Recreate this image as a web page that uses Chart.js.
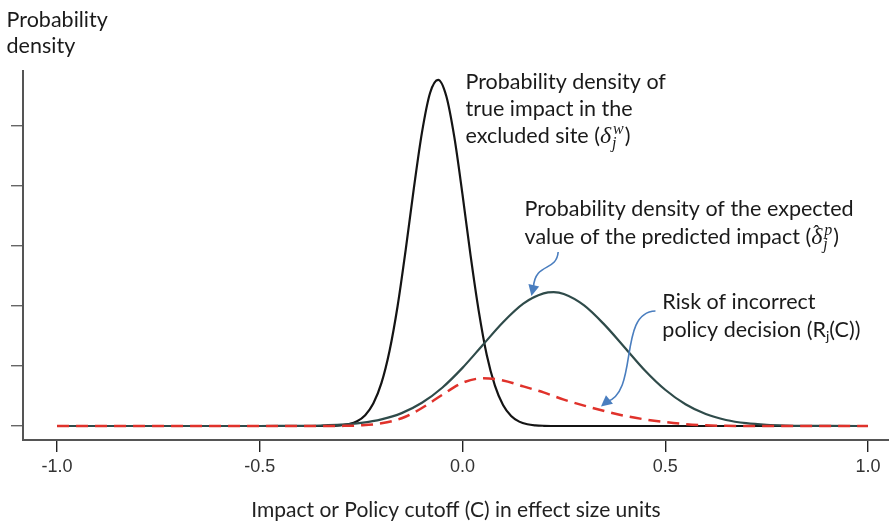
<!DOCTYPE html>
<html><head><meta charset="utf-8">
<script src="https://cdn.jsdelivr.net/npm/chart.js@4.4.1/dist/chart.umd.min.js"></script>
<style>html,body{margin:0;padding:0;background:#fff;}#wrap{width:889px;height:524px;}</style>
</head><body><div id="wrap"><canvas id="c" width="889" height="524"></canvas></div>
<script>
// ---- data ----
const trueX = [-1.0, -0.36, -0.32, -0.30, -0.28, -0.26, -0.24, -0.22, -0.20, -0.18, -0.16, -0.14, -0.12, -0.10, -0.08, -0.06, -0.04, -0.02, 0.00, 0.02, 0.04, 0.06, 0.08, 0.10, 0.12, 0.14, 0.16, 0.18, 0.20, 0.24, 1.0];
const trueY = [0, 0, 0.004, 0.012, 0.032, 0.080, 0.181, 0.375, 0.714, 1.25, 2.00, 2.94, 3.96, 4.89, 5.55, 5.77, 5.50, 4.81, 3.86, 2.84, 1.92, 1.18, 0.673, 0.350, 0.167, 0.073, 0.029, 0.011, 0.004, 0, 0];

const predX = [-1.0, -0.50, -0.45, -0.40, -0.35, -0.30, -0.25, -0.20, -0.15, -0.10, -0.05, 0.00, 0.05, 0.10, 0.15, 0.20, 0.225, 0.25, 0.30, 0.35, 0.40, 0.45, 0.50, 0.55, 0.60, 0.65, 0.70, 0.75, 0.80, 0.85, 0.90, 1.0];
const predY = [0, 0, 0.001, 0.003, 0.009, 0.022, 0.052, 0.110, 0.215, 0.387, 0.638, 0.969, 1.35, 1.73, 2.04, 2.21, 2.23, 2.20, 2.01, 1.69, 1.31, 0.926, 0.604, 0.362, 0.199, 0.101, 0.047, 0.020, 0.008, 0.003, 0.001, 0];

const riskX = [-1.0, -0.35, -0.30, -0.25, -0.20, -0.15, -0.10, -0.05, 0.00, 0.05, 0.10, 0.15, 0.20, 0.25, 0.30, 0.35, 0.40, 0.45, 0.50, 0.55, 0.60, 0.65, 0.70, 1.0];
const riskY = [0, 0, 0.002, 0.012, 0.045, 0.13, 0.30, 0.52, 0.72, 0.795, 0.76, 0.66, 0.56, 0.44, 0.34, 0.25, 0.17, 0.11, 0.065, 0.032, 0.012, 0.003, 0, 0];

const xTickValues = [-1.0, -0.5, 0.0, 0.5, 1.0];
const xTickLabels = ['-1.0', '-0.5', '0.0', '0.5', '1.0'];
const yTickValues = [0, 1, 2, 3, 4, 5];
const xAxisTitle = 'Impact or Policy cutoff (C) in effect size units';
const yAxisTitle = ['Probability', 'density'];

const pts = (xs, ys) => xs.map((x, i) => ({x: x, y: ys[i]}));

// ---- styles ----
const TXT = '21.5px Lato';
const MATH = 'italic 24px "Liberation Serif"';
const MSMALL = 'italic 16px "Liberation Serif"';
const SUBR = '14px Lato';
const TEXT_COLOR = '#1a1a1a';
const ARROW_COLOR = '#4a7ebf';

// annotation anchors in data units
const notes = [
  {x: 0.0074, y: [5.617, 5.167, 4.717], lines: [
    [{t: 'Probability density of'}],
    [{t: 'true impact in the'}],
    [{t: 'excluded site ('}, {t: 'δ', font: MATH}, {sub: 'j', sup: 'w'}, {t: ')'}]
  ]},
  {x: 0.153, y: [3.5, 3.033], lines: [
    [{t: 'Probability density of the expected'}],
    [{t: 'value of the predicted impact ('}, {t: 'δ', font: MATH, hat: true}, {sub: 'j', sup: 'p'}, {t: ')'}]
  ]},
  {x: 0.493, y: [1.95, 1.483], lines: [
    [{t: 'Risk of incorrect'}],
    [{t: 'policy decision (R'}, {t: 'j', font: SUBR, dy: 4}, {t: '(C))'}]
  ]}
];
const yTitlePos = {x: -1.1245, y: [6.65, 6.217]};
const xTitlePos = {x: -0.0005, y: -1.52};

const arrows = [
  {p: [[0.236, 2.9], [0.2318, 2.567], [0.18, 2.733], [0.175, 2.317]], tip: [0.170, 2.167]},
  {p: [[0.476, 1.917], [0.3822, 1.9], [0.4365, 0.567], [0.355, 0.4]], tip: [0.3416, 0.325]}
];

const annotPlugin = {
  id: 'annot',
  afterDraw(chart) {
    const ctx = chart.ctx, xs = chart.scales.x, ys = chart.scales.y;
    const P = (x, y) => [xs.getPixelForValue(x), ys.getPixelForValue(y)];
    ctx.save();
    ctx.fillStyle = TEXT_COLOR;
    ctx.textAlign = 'left';
    ctx.textBaseline = 'alphabetic';

    function drawRuns(x, y, runs) {
      let cx = x;
      for (const r of runs) {
        if (r.sub !== undefined) {
          ctx.font = MSMALL;
          ctx.fillText(r.sub, cx + 1, y + 5);
          const w1 = ctx.measureText(r.sub).width + 1;
          ctx.fillText(r.sup, cx + 2, y - 9);
          const w2 = ctx.measureText(r.sup).width + 2;
          cx += Math.max(w1, w2) + 1;
        } else {
          ctx.font = r.font || TXT;
          ctx.fillText(r.t, cx, y + (r.dy || 0));
          const w = ctx.measureText(r.t).width;
          if (r.hat) {
            ctx.font = '19px "Liberation Serif"';
            ctx.fillText('ˆ', cx + 2, y - 6);
          }
          cx += w;
        }
      }
    }

    // y axis title
    ctx.font = TXT;
    yAxisTitle.forEach((s, i) => {
      const [px, py] = P(yTitlePos.x, yTitlePos.y[i]);
      ctx.fillText(s, px, py);
    });

    for (const n of notes) {
      n.lines.forEach((ln, i) => {
        const [px, py] = P(n.x, n.y[i]);
        drawRuns(px, py, ln);
      });
    }

    // arrows
    ctx.strokeStyle = ARROW_COLOR;
    ctx.fillStyle = ARROW_COLOR;
    ctx.lineWidth = 1.6;
    for (const a of arrows) {
      const q = a.p.map(v => P(v[0], v[1]));
      ctx.beginPath();
      ctx.moveTo(q[0][0], q[0][1]);
      ctx.bezierCurveTo(q[1][0], q[1][1], q[2][0], q[2][1], q[3][0], q[3][1]);
      ctx.stroke();
      const t = P(a.tip[0], a.tip[1]);
      let dx = t[0] - q[3][0], dy = t[1] - q[3][1];
      const L = Math.hypot(dx, dy); dx /= L; dy /= L;
      const len = 11, hw = 5.5;
      const bx = t[0] - dx * len, by = t[1] - dy * len;
      ctx.beginPath();
      ctx.moveTo(t[0], t[1]);
      ctx.lineTo(bx - dy * hw, by + dx * hw);
      ctx.lineTo(bx + dy * hw, by - dx * hw);
      ctx.closePath();
      ctx.fill();
    }
    ctx.restore();
  }
};

new Chart(document.getElementById('c'), {
  type: 'line',
  data: {
    datasets: [
      {label: 'risk', data: pts(riskX, riskY), borderColor: '#e0322b', borderWidth: 2.5, borderDash: [12, 7], pointRadius: 0, cubicInterpolationMode: 'monotone', fill: false},
      {label: 'pred', data: pts(predX, predY), borderColor: '#2f4b4a', borderWidth: 2.2, pointRadius: 0, cubicInterpolationMode: 'monotone', fill: false},
      {label: 'true', data: pts(trueX, trueY), borderColor: '#141414', borderWidth: 2.2, pointRadius: 0, cubicInterpolationMode: 'monotone', fill: false}
    ]
  },
  options: {
    responsive: false,
    animation: false,
    devicePixelRatio: 1,
    layout: {padding: {top: 71, left: 0, right: 0, bottom: 0}},
    plugins: {legend: {display: false}, tooltip: {enabled: false}, title: {display: false}},
    scales: {
      x: {
        type: 'linear', position: 'bottom', min: -1.084, max: 1.052,
        afterBuildTicks: s => { s.ticks = xTickValues.map(v => ({value: v})); },
        afterFit: s => { s.height = 84; },
        ticks: {callback: (v, i) => xTickLabels[i], color: '#333', padding: 4, maxRotation: 0, autoSkip: false,
          font: {family: '"Liberation Sans Narrow", "Liberation Sans", sans-serif', size: 18}},
        grid: {drawOnChartArea: false, drawTicks: true, tickLength: 12, color: '#222', lineWidth: 1.4},
        border: {display: true, color: '#555', width: 2},
        title: {display: true, text: xAxisTitle, color: '#222', padding: {top: 0, bottom: 1},
          font: {family: 'Lato', size: 21}}
      },
      y: {
        type: 'linear', min: -0.233, max: 5.917,
        afterBuildTicks: s => { s.ticks = yTickValues.map(v => ({value: v})); },
        afterFit: s => { s.width = 23; },
        ticks: {display: false},
        grid: {drawOnChartArea: false, drawTicks: true, tickLength: 12, color: '#666', lineWidth: 1.4},
        border: {display: true, color: '#555', width: 2}
      }
    }
  },
  plugins: [annotPlugin]
});
</script>
</body></html>
